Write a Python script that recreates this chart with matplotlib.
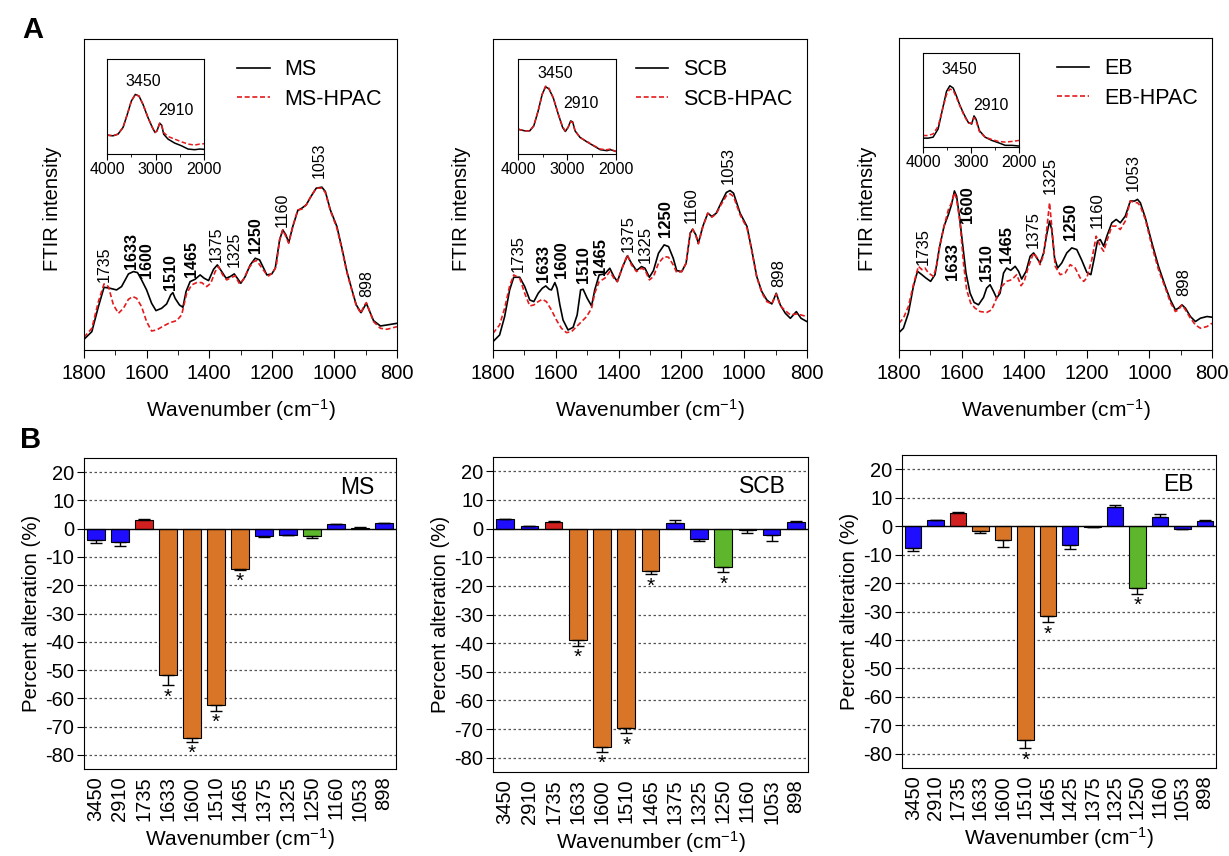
"""
FTIR spectra of raw vs HPAC-treated biomass (A) and percent alteration
of the characteristic bands (B).
"""

import matplotlib
matplotlib.use("Agg")
import matplotlib.pyplot as plt
from matplotlib.lines import Line2D
from matplotlib.ticker import MultipleLocator

plt.rcParams["font.family"] = "Liberation Sans"
plt.rcParams["mathtext.fontset"] = "custom"
plt.rcParams["mathtext.rm"] = "Liberation Sans"
plt.rcParams["mathtext.it"] = "Liberation Sans:italic"
plt.rcParams["mathtext.bf"] = "Liberation Sans:bold"
plt.rcParams["axes.unicode_minus"] = False

W, H = 1229, 856

# ---------------- spectra, 1800-800 cm-1 (arbitrary units) ----------------
MS_WN = [1800, 1775, 1754, 1736, 1717, 1696, 1680, 1658, 1642, 1629,
         1616, 1600, 1584, 1570, 1552, 1536, 1523, 1516, 1509, 1495,
         1484, 1474, 1461, 1445, 1429, 1416, 1402, 1386, 1374, 1360,
         1346, 1333, 1320, 1310, 1299, 1285, 1269, 1253, 1239, 1226,
         1216, 1200, 1189, 1175, 1165, 1155, 1146, 1133, 1117, 1104,
         1090, 1075, 1058, 1040, 1029, 1013, 992, 976, 960, 944,
         930, 915, 907, 898, 887, 875, 853, 832, 800]
MS_I = [32, 55, 130, 188, 185, 180, 190, 228, 235, 232,
        210, 180, 140, 118, 125, 138, 165, 172, 155, 135,
        128, 175, 205, 212, 225, 215, 208, 242, 255, 235,
        215, 220, 228, 215, 200, 220, 255, 275, 270, 245,
        225, 228, 245, 330, 360, 345, 322, 370, 418, 425,
        435, 460, 485, 488, 475, 420, 370, 305, 235, 180,
        135, 112, 125, 140, 115, 88, 72, 75, 80]
MS_HPAC_WN = [1800, 1775, 1754, 1736, 1722, 1706, 1690, 1674, 1658, 1644,
              1632, 1616, 1600, 1584, 1568, 1546, 1525, 1504, 1488, 1472,
              1456, 1440, 1424, 1408, 1395, 1381, 1370, 1357, 1344, 1328,
              1317, 1303, 1290, 1274, 1258, 1248, 1235, 1221, 1210, 1197,
              1186, 1175, 1165, 1155, 1146, 1133, 1117, 1104, 1090, 1075,
              1058, 1040, 1029, 1013, 992, 976, 960, 944, 930, 915,
              907, 898, 887, 875, 853, 832, 800]
MS_HPAC_I = [38, 65, 145, 198, 190, 135, 110, 125, 152, 160,
             155, 130, 85, 57, 60, 72, 82, 88, 105, 170,
             195, 202, 202, 190, 200, 235, 250, 225, 210, 218,
             222, 198, 212, 245, 265, 268, 250, 232, 222, 232,
             250, 330, 360, 340, 320, 370, 420, 422, 435, 460,
             485, 485, 472, 418, 365, 302, 232, 178, 132, 110,
             130, 142, 115, 85, 65, 62, 70]

SCB_WN = [1800, 1779, 1763, 1747, 1734, 1715, 1699, 1683, 1670, 1656,
          1643, 1632, 1621, 1614, 1603, 1596, 1587, 1577, 1561, 1545,
          1532, 1521, 1513, 1500, 1486, 1476, 1462, 1444, 1428, 1415,
          1404, 1387, 1372, 1359, 1343, 1327, 1316, 1302, 1289, 1273,
          1255, 1241, 1226, 1215, 1199, 1185, 1172, 1164, 1154, 1146,
          1132, 1116, 1103, 1089, 1074, 1057, 1045, 1034, 1013, 991,
          976, 960, 944, 928, 912, 898, 885, 869, 853, 834,
          819, 800]
SCB_I = [25, 45, 100, 180, 218, 218, 190, 150, 145, 170,
         185, 192, 182, 180, 202, 185, 135, 90, 60, 68,
         105, 180, 182, 155, 132, 180, 225, 228, 245, 220,
         205, 250, 282, 260, 238, 250, 245, 218, 238, 290,
         315, 310, 275, 238, 235, 260, 350, 362, 345, 320,
         370, 410, 400, 410, 440, 472, 478, 470, 410, 370,
         300, 220, 175, 150, 138, 170, 135, 110, 95, 115,
         95, 85]
SCB_HPAC_WN = [1800, 1779, 1763, 1747, 1734, 1715, 1699, 1683, 1670, 1656,
               1643, 1630, 1614, 1598, 1582, 1566, 1550, 1534, 1518, 1502,
               1486, 1476, 1462, 1444, 1428, 1415, 1404, 1387, 1372, 1359,
               1343, 1327, 1316, 1302, 1289, 1273, 1255, 1241, 1226, 1215,
               1199, 1185, 1172, 1164, 1154, 1146, 1132, 1116, 1103, 1089,
               1074, 1057, 1045, 1034, 1013, 991, 976, 960, 944, 928,
               912, 898, 885, 869, 853, 834, 819, 800]
SCB_HPAC_I = [50, 75, 125, 192, 225, 215, 170, 132, 135, 145,
              152, 145, 120, 90, 65, 52, 55, 70, 85, 100,
              125, 170, 205, 215, 235, 215, 205, 250, 285, 255,
              235, 245, 240, 210, 220, 260, 280, 278, 255, 232,
              235, 260, 350, 362, 342, 318, 368, 410, 398, 408,
              435, 462, 468, 460, 405, 365, 298, 218, 172, 145,
              138, 168, 132, 118, 105, 108, 105, 100]

EB_WN = [1800, 1786, 1770, 1754, 1741, 1727, 1714, 1699, 1685, 1671,
         1656, 1642, 1632, 1623, 1616, 1607, 1596, 1586, 1573, 1560,
         1546, 1530, 1520, 1509, 1498, 1488, 1477, 1466, 1456, 1443,
         1429, 1418, 1408, 1394, 1381, 1370, 1360, 1349, 1338, 1328,
         1319, 1312, 1303, 1293, 1280, 1264, 1248, 1232, 1216, 1200,
         1187, 1176, 1166, 1157, 1146, 1136, 1120, 1106, 1093, 1077,
         1061, 1047, 1038, 1029, 1013, 992, 971, 949, 933, 917,
         907, 896, 885, 869, 853, 837, 816, 800]
EB_I = [52, 65, 110, 190, 235, 225, 215, 205, 225, 305,
        370, 405, 435, 475, 460, 400, 310, 230, 170, 142,
        135, 157, 185, 195, 175, 155, 170, 230, 245, 238,
        250, 235, 212, 235, 280, 290, 275, 260, 290, 345,
        385, 360, 275, 245, 260, 290, 305, 300, 268, 232,
        225, 275, 325, 330, 310, 340, 380, 390, 380, 400,
        445, 445, 450, 440, 395, 320, 250, 190, 150, 120,
        125, 135, 125, 100, 85, 95, 100, 98]
EB_HPAC_WN = [1800, 1786, 1770, 1754, 1738, 1727, 1717, 1706, 1690, 1680,
              1669, 1656, 1642, 1632, 1623, 1616, 1605, 1594, 1584, 1571,
              1557, 1541, 1520, 1504, 1488, 1472, 1456, 1440, 1424, 1410,
              1400, 1386, 1370, 1358, 1349, 1338, 1328, 1319, 1312, 1301,
              1285, 1269, 1253, 1237, 1221, 1210, 1200, 1184, 1170, 1157,
              1146, 1136, 1120, 1106, 1093, 1077, 1061, 1045, 1038, 1029,
              1013, 992, 971, 949, 933, 917, 907, 896, 885, 869,
              853, 837, 816, 800]
EB_HPAC_I = [80, 95, 130, 195, 250, 240, 245, 230, 220, 250,
             315, 370, 420, 440, 470, 450, 380, 260, 180, 140,
             125, 115, 112, 120, 155, 190, 205, 210, 225, 192,
             205, 250, 290, 275, 255, 285, 360, 440, 370, 250,
             225, 230, 255, 245, 215, 205, 215, 270, 340, 310,
             295, 325, 370, 370, 360, 385, 445, 440, 440, 430,
             390, 310, 240, 185, 142, 115, 120, 135, 120, 95,
             75, 65, 70, 80]

# ---------------- inset spectra, 4000-2000 cm-1 ----------------
MS_IN_WN = [4000, 3876, 3773, 3670, 3581, 3498, 3416, 3340, 3258, 3155,
            3065, 3010, 2969, 2914, 2873, 2832, 2742, 2605, 2467, 2330,
            2192, 2089, 2000]
MS_IN_I = [54, 52, 57, 77, 117, 157, 177, 172, 147, 107,
           77, 62, 67, 90, 84, 57, 42, 30, 22, 12,
           10, 12, 11]
MS_IN_HPAC_I = [54, 52, 57, 77, 117, 157, 177, 172, 147, 107,
                77, 62, 67, 90, 84, 62, 50, 42, 34, 27,
                24, 27, 28]

SCB_IN_WN = [4000, 3863, 3760, 3678, 3589, 3507, 3438, 3370, 3281, 3178,
             3089, 3034, 2979, 2925, 2884, 2836, 2733, 2596, 2459, 2322,
             2185, 2116, 2000]
SCB_IN_I = [72, 67, 67, 82, 127, 177, 200, 194, 167, 117,
            77, 65, 77, 97, 94, 67, 47, 34, 22, 10,
            7, 10, 5]
SCB_IN_HPAC_I = [72, 67, 67, 82, 127, 177, 202, 196, 167, 117,
                 79, 67, 77, 95, 92, 67, 47, 35, 23, 12,
                 10, 12, 4]

EB_IN_WN = [4000, 3895, 3790, 3685, 3594, 3510, 3441, 3371, 3301, 3231,
            3147, 3056, 2986, 2937, 2895, 2825, 2706, 2566, 2427, 2287,
            2147, 2000]
EB_IN_I = [24, 24, 27, 52, 112, 167, 184, 177, 152, 124,
           97, 72, 67, 92, 82, 47, 27, 17, 10, 2,
           2, 0]
EB_IN_HPAC_I = [32, 32, 37, 60, 112, 157, 174, 170, 147, 122,
                94, 70, 70, 87, 77, 44, 27, 20, 14, 12,
                14, 17]

# ---------------- percent alteration of band intensities ----------------
BANDS = ["3450", "2910", "1735", "1633", "1600", "1510", "1465",
         "1375", "1325", "1250", "1160", "1053", "898"]
BANDS_EB = ["3450", "2910", "1735", "1633", "1600", "1510", "1465",
            "1425", "1375", "1325", "1250", "1160", "1053", "898"]

# band class: c = cellulose/hemicellulose, h = acetyl, l = lignin, g = guaiacyl
CLASS = ["c", "c", "h", "l", "l", "l", "l", "c", "c", "g", "c", "c", "c"]
CLASS_EB = ["c", "c", "h", "l", "l", "l", "l", "c", "c", "c", "g", "c", "c", "c"]

MS_ALT = [-4.0, -4.8, 3.2, -51.9, -73.9, -62.5, -14.2, -2.5, -2.1, -2.7, 1.5, 0.4, 1.9]
MS_ERR = [1.0, 1.2, 0.3, 3.5, 1.4, 2.0, 0.3, 0.3, 0.3, 0.6, 0.2, 0.2, 0.1]
MS_SIG = [0, 0, 0, 1, 1, 1, 1, 0, 0, 0, 0, 0, 0]

SCB_ALT = [3.3, 0.9, 2.2, -38.9, -76.1, -69.5, -14.9, 1.9, -3.5, -13.5, -0.5, -2.2, 2.4]
SCB_ERR = [0.2, 0.1, 0.4, 2.0, 1.8, 1.9, 1.0, 1.0, 0.8, 1.7, 0.9, 2.1, 0.3]
SCB_SIG = [0, 0, 0, 1, 1, 1, 1, 0, 0, 1, 0, 0, 0]

EB_ALT = [-7.6, 2.0, 4.5, -1.8, -5.0, -75.2, -31.6, -6.8, -0.2, 6.6, -21.8, 3.1, -0.9, 1.9]
EB_ERR = [1.0, 0.3, 0.5, 0.7, 2.2, 2.8, 2.2, 1.2, 0.1, 0.8, 2.0, 1.2, 0.2, 0.3]
EB_SIG = [0, 0, 0, 0, 0, 1, 1, 0, 0, 0, 1, 0, 0, 0]

# ---------------- layout (label placement, colours) ----------------
PEAKS = ["1735", "1633", "1600", "1510", "1465", "1375",
         "1325", "1250", "1160", "1053", "898"]
BOLD_PEAKS = {"1633", "1600", "1510", "1465", "1250"}
MS_PEAK_POS = [(1736, 205), (1648, 242), (1600, 215), (1523, 180), (1456, 220),
               (1376, 265), (1319, 250), (1253, 290), (1168, 370), (1047, 515),
               (896, 160)]
SCB_PEAK_POS = [(1720, 235), (1640, 205), (1582, 215), (1513, 200), (1457, 225),
                (1369, 295), (1316, 260), (1252, 338), (1169, 382), (1050, 498),
                (890, 190)]
EB_PEAK_POS = [(1724, 255), (1628, 210), (1580, 378), (1520, 205), (1458, 260),
               (1372, 305), (1317, 465), (1251, 328), (1168, 365), (1051, 475),
               (891, 160)]
MS_INSET_POS = [(3258, 192), (2584, 107)]
SCB_INSET_POS = [(3233, 217), (2719, 127)]
EB_INSET_POS = [(3245, 212), (2580, 102)]

CLASS_COLORS = {"c": "#1e0dff", "h": "#d21f1f", "l": "#d97526", "g": "#5db62b"}
RED = "#e41a1c"
DASH = (0, (3, 1.6))
WN_LABEL = "Wavenumber (cm$^{-1}$)"


def rect(left, top, right, bottom):
    """Pixel box -> figure fraction rect."""
    return [left / W, 1 - bottom / H, (right - left) / W, (bottom - top) / H]


def draw_spectrum(ax, wn, inten, wn2, inten2, peak_pos, fs):
    ax.plot(wn, inten, color="black", lw=1.2)
    ax.plot(wn2, inten2, color=RED, lw=1.2, ls=DASH)
    ax.set_xlim(1800, 800)
    ax.set_ylim(0, 932)
    ax.xaxis.set_major_locator(MultipleLocator(200))
    ax.xaxis.set_minor_locator(MultipleLocator(100))
    ax.tick_params(axis="x", which="major", direction="out", length=6,
                   labelsize=14.5, pad=4)
    ax.tick_params(axis="x", which="minor", direction="out", length=3.5)
    ax.set_yticks([])
    ax.set_xlabel(WN_LABEL, fontsize=15, labelpad=10)
    ax.set_ylabel("FTIR intensity", fontsize=14.5)
    ax.yaxis.set_label_coords(-0.07, 0.453)
    for lbl, (x, y) in zip(PEAKS, peak_pos):
        ax.text(x, y, lbl, rotation=90, ha="center", va="bottom", fontsize=fs,
                fontweight="bold" if lbl in BOLD_PEAKS else "normal")


def draw_inset(ax, wn, inten, inten2, label_pos):
    ax.plot(wn, inten, color="black", lw=1.1)
    ax.plot(wn, inten2, color=RED, lw=1.1, ls=DASH)
    ax.set_xlim(4000, 2000)
    ax.set_ylim(-3, 284)
    ax.set_xticks([4000, 3000, 2000])
    ax.xaxis.set_minor_locator(MultipleLocator(500))
    ax.set_yticks([])
    ax.tick_params(axis="x", which="major", direction="out", length=4,
                   labelsize=11.5, pad=2)
    ax.tick_params(axis="x", which="minor", direction="out", length=2.5)
    for lbl, (x, y) in zip(["3450", "2910"], label_pos):
        ax.text(x, y, lbl, ha="center", va="bottom", fontsize=11.5)


def draw_bars(ax, bands, classes, alt, err, sig, title):
    xs = list(range(len(bands)))
    colors = [CLASS_COLORS[c] for c in classes]
    lower = [e if v < 0 else 0 for v, e in zip(alt, err)]
    upper = [e if v >= 0 else 0 for v, e in zip(alt, err)]
    for y in range(-80, 30, 10):
        if y != 0:
            ax.axhline(y, color="#555555", lw=0.9, ls=(0, (2, 2)), zorder=0)
    ax.bar(xs, alt, width=0.73, color=colors, edgecolor="black", lw=0.8,
           zorder=2)
    ax.errorbar(xs, alt, yerr=[lower, upper], fmt="none", ecolor="black",
                elinewidth=1.0, capsize=4, capthick=1.0, zorder=3)
    ax.axhline(0, color="black", lw=1.0, zorder=4)
    for x, v, e, s in zip(xs, alt, err, sig):
        if s:
            ax.text(x, v - e - 0.8, "*", ha="center", va="top", fontsize=15)
    ax.set_xlim(-0.5, len(bands) - 0.5)
    ax.set_ylim(-85, 25)
    ax.set_yticks(range(-80, 30, 10))
    ax.set_xticks(xs)
    ax.set_xticklabels(bands, rotation=90)
    ax.tick_params(axis="x", length=0, labelsize=14.5, pad=5)
    ax.tick_params(axis="y", direction="out", length=5, labelsize=14.5, pad=2)
    ax.set_xlabel(WN_LABEL, fontsize=15, labelpad=4)
    ax.set_ylabel("Percent alteration (%)", fontsize=14.7, labelpad=3)
    ax.text(0.93, 0.905, title, transform=ax.transAxes, ha="right",
            va="center", fontsize=16.5)


fig = plt.figure(figsize=(W / 100, H / 100), dpi=100)

spectra = [
    ("MS", MS_WN, MS_I, MS_HPAC_WN, MS_HPAC_I, MS_PEAK_POS, 11.5,
     (84, 39, 397, 350), (107, 59, 204, 154), 0.49,
     MS_IN_WN, MS_IN_I, MS_IN_HPAC_I, MS_INSET_POS),
    ("SCB", SCB_WN, SCB_I, SCB_HPAC_WN, SCB_HPAC_I, SCB_PEAK_POS, 12,
     (493, 39, 807, 350), (518, 59, 616, 154), 0.455,
     SCB_IN_WN, SCB_IN_I, SCB_IN_HPAC_I, SCB_INSET_POS),
    ("EB", EB_WN, EB_I, EB_HPAC_WN, EB_HPAC_I, EB_PEAK_POS, 12,
     (899, 38, 1212, 350), (923, 53, 1019, 147), 0.505,
     EB_IN_WN, EB_IN_I, EB_IN_HPAC_I, EB_INSET_POS),
]

for (name, wn, inten, wn2, inten2, ppos, fs, box, ibox, leg_x,
     iwn, ii, ii2, ipos) in spectra:
    ax = fig.add_axes(rect(*box))
    draw_spectrum(ax, wn, inten, wn2, inten2, ppos, fs)
    handles = [Line2D([], [], color="black", lw=1.2),
               Line2D([], [], color=RED, lw=1.2, ls=DASH)]
    ax.legend(handles, [name, name + "-HPAC"], loc="upper left",
              bbox_to_anchor=(leg_x, 0.935), frameon=False, fontsize=15.5,
              handlelength=1.5, handletextpad=0.7, labelspacing=0.4,
              borderpad=0, borderaxespad=0)
    axi = fig.add_axes(rect(*ibox))
    draw_inset(axi, iwn, ii, ii2, ipos)

bars = [
    ((84, 458, 396, 769), BANDS, CLASS, MS_ALT, MS_ERR, MS_SIG, "MS"),
    ((493, 457, 808, 772), BANDS, CLASS, SCB_ALT, SCB_ERR, SCB_SIG, "SCB"),
    ((902, 455, 1216, 768), BANDS_EB, CLASS_EB, EB_ALT, EB_ERR, EB_SIG, "EB"),
]
for box, bands, classes, alt, err, sig, title in bars:
    ax = fig.add_axes(rect(*box))
    draw_bars(ax, bands, classes, alt, err, sig, title)

fig.text(22 / W, 1 - 30 / H, "A", fontsize=21, fontweight="bold",
         ha="left", va="center")
fig.text(20 / W, 1 - 440 / H, "B", fontsize=21, fontweight="bold",
         ha="left", va="center")

fig.savefig("out.png", dpi=100)
plt.close(fig)
